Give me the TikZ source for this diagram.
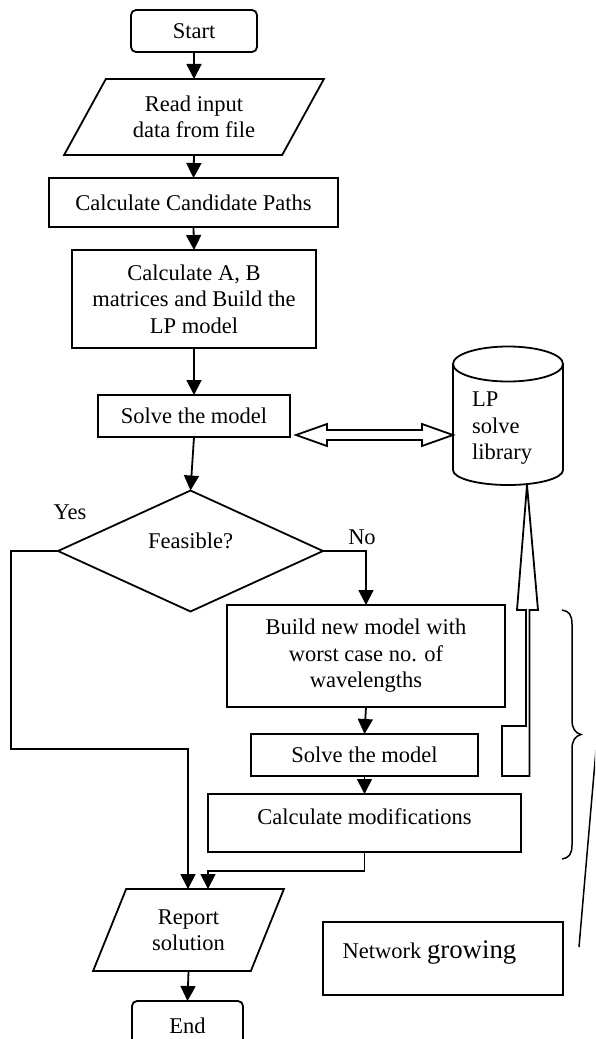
\documentclass[tikz,border=0pt]{standalone}
\usepackage{fontspec}
\setmainfont{Liberation Serif}
\usetikzlibrary{arrows.meta,shapes.geometric}
\tikzset{
	plain/.style={line width=1.8pt,draw=black,inner sep=0pt,outer sep=0pt,align=center,font=\fontsize{22.5}{26.5}\selectfont},
	stepbox/.style={plain,rectangle},
	termbox/.style={plain,rectangle,rounded corners=5pt},
	iobox/.style={plain,trapezium,trapezium stretches=true},
	flow/.style={line width=1.8pt,-{Triangle[length=15pt,width=15pt]}},
	wire/.style={line width=1.8pt,line join=miter},
	tag/.style={inner sep=0pt,outer sep=0pt,align=left,font=\fontsize{22.5}{26.5}\selectfont},
}
\begin{document}
\begin{tikzpicture}[x=1pt,y=-1pt]
	\path[use as bounding box,clip] (0,0) rectangle (595,1039);
	\node[termbox,minimum width=126,minimum height=42] (start) at (194,31) {Start};
	\node[iobox,trapezium left angle=55.6,trapezium right angle=124.4,minimum width=260,minimum height=76] (read) at (194,117) {Read input\\data from file};
	\node[stepbox,minimum width=289,minimum height=49] (paths) at (193.5,202.5) {Calculate Candidate Paths};
	\node[stepbox,minimum width=244,minimum height=98] (build) at (194,299) {Calculate A, B\\matrices and Build the\\LP model};
	\node[stepbox,minimum width=192,minimum height=42] (solve) at (194,416) {Solve the model};
	\node[plain,diamond,minimum width=265,minimum height=119,text height=15,text depth=21] (feasible) at (190.5,551) {Feasible?};
	\node[stepbox,minimum width=278,minimum height=102] (worst) at (366,656) {Build new model with\\worst case no. of\\wavelengths};
	\node[stepbox,minimum width=227,minimum height=42] (resolve) at (364.5,755) {Solve the model};
	\node[stepbox,minimum width=313,minimum height=58,text height=15,text depth=13] (modify) at (364.5,823) {Calculate modifications};
	\node[iobox,trapezium left angle=65.1,trapezium right angle=114.9,minimum width=191,minimum height=82] (report) at (188.5,930) {Report\\solution};
	\node[termbox,minimum width=111,minimum height=60] (end) at (187.5,1031) {};
	\node[tag] (endtext) at (187.5,1026) {End};
	\node[stepbox,minimum width=240,minimum height=73,text height=16,text depth=16] (growing) at (443,958.5) {Network {\fontsize{26.8}{30}\selectfont growing}\hspace*{27pt}};
	\node[tag] (librarytext) at (502,428.5) {LP\\solve\\library};
	\node[tag] (yes) at (70,512) {Yes};
	\node[tag] (no) at (362,537) {No};
	\coordinate (yesbend) at (11,749);
	\coordinate (yesin) at (188,889);
	\coordinate (modbend) at (208,871);
	\coordinate (modin) at (208,889);
	\draw[flow] (start.south) -- (read.north);
	\draw[flow] (read.south) -- (paths.north);
	\draw[flow] (paths.south) -- (build.north);
	\draw[flow] (build.south) -- (solve.north);
	\draw[flow] (solve.south) -- (feasible.north);
	\draw[flow] (feasible.east) -| (worst.north);
	\draw[flow] (worst.south) -- (resolve.north);
	\draw[flow] (resolve.south) -- (modify.north);
	\draw[flow] (feasible.west) -| (yesbend) -| (yesin);
	\draw[flow] (modify.south) |- (modbend) -- (modin);
	\draw[flow] (report.south) -- (end.north);
	% library drum
	\draw[wire] (508,364) ellipse [x radius=55,y radius=17.5];
	\draw[wire] (453,364) -- (453,470) arc [start angle=180,end angle=0,x radius=55,y radius=15] -- (563,364);
	% hollow arrows
	\draw[wire,fill=white] (296,435) -- (327,424) -- (327,430) -- (422,430) -- (422,424) -- (453,435) -- (422,446) -- (422,440) -- (327,440) -- (327,446) -- cycle;
	\draw[wire,fill=white] (527,485) -- (538,610) -- (529.5,610) -- (529.5,776) -- (502,776) -- (502,726) -- (526,726) -- (526,610) -- (517,610) -- cycle;
	% brace and its leader
	\draw[line width=1.5pt] (562,610) .. controls (569,611) and (572,615) .. (572,624) -- (572,720) .. controls (572,728) and (575,733) .. (581,734.5) .. controls (575,736) and (572,741) .. (572,749) -- (572,845) .. controls (572,854) and (569,858) .. (562,859);
	\draw[line width=1.5pt] (579,947) -- (596,750);
\end{tikzpicture}
\end{document}
